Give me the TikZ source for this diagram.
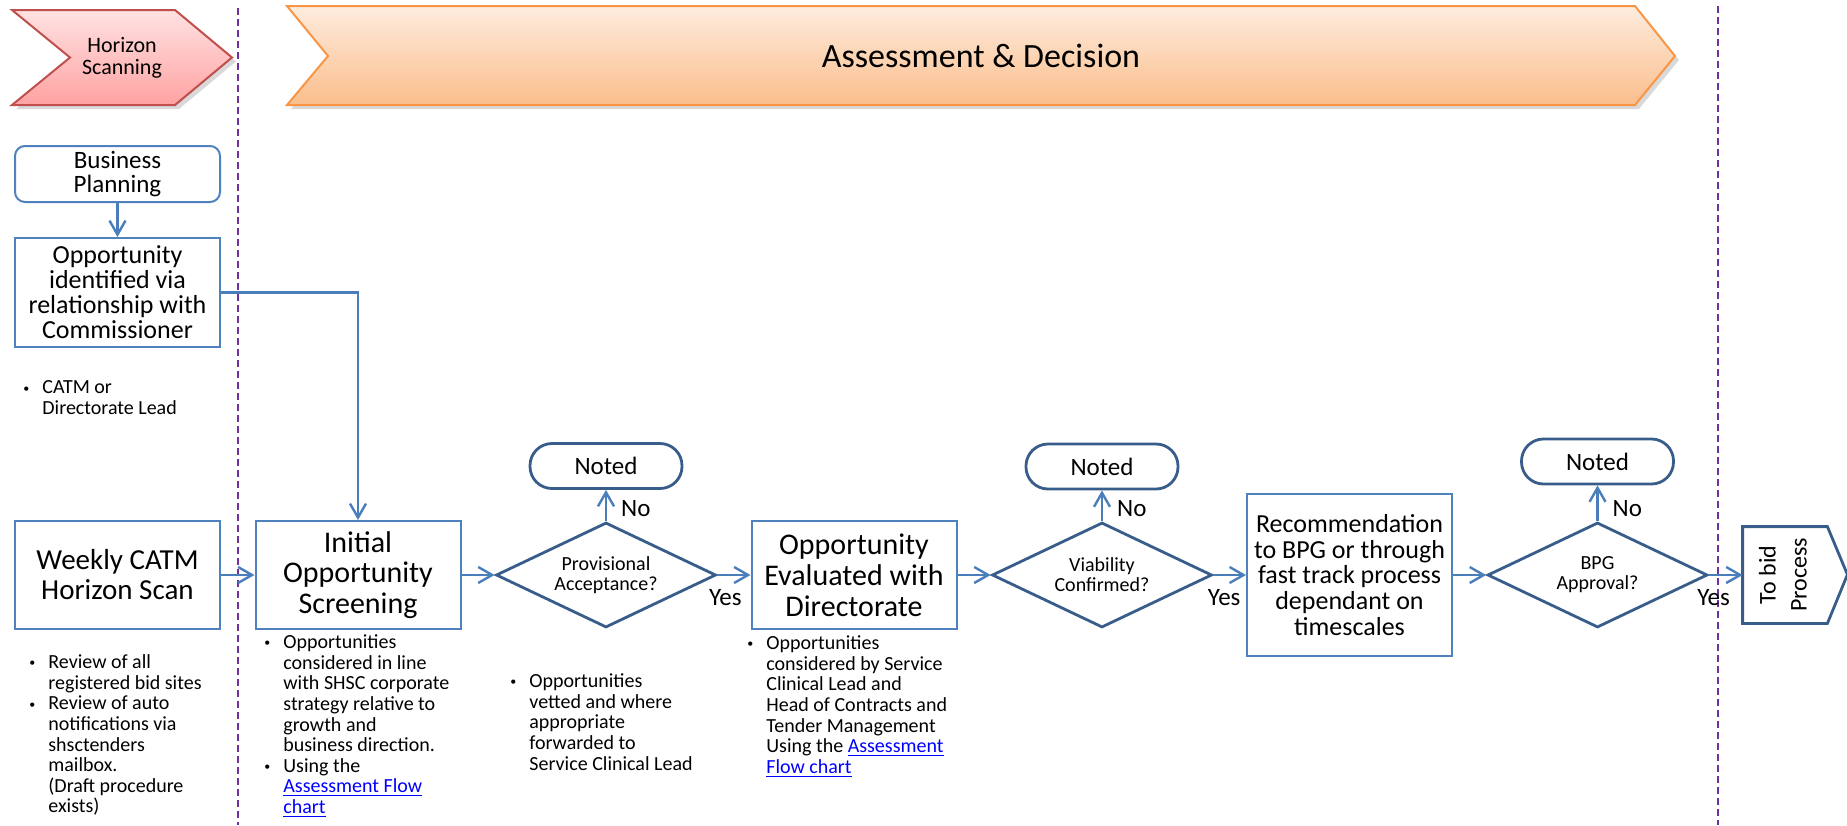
\documentclass[tikz,border=0pt]{standalone}
\usepackage{fontspec}
\setmainfont{Carlito}
\usepackage{tikz}
\usetikzlibrary{arrows,arrows.meta,shapes.geometric,shadows,positioning}

\definecolor{boxblue}{RGB}{79,129,189}
\definecolor{darkblue}{RGB}{56,93,138}
\definecolor{arrowblue}{RGB}{74,126,187}
\definecolor{lanepurple}{RGB}{112,48,160}
\definecolor{linkblue}{RGB}{0,0,255}
\definecolor{pinktop}{RGB}{255,226,226}
\definecolor{pinkbot}{RGB}{255,162,162}
\definecolor{pinkline}{RGB}{192,80,77}
\definecolor{orangetop}{RGB}{254,236,222}
\definecolor{orangebot}{RGB}{250,190,140}
\definecolor{orangeline}{RGB}{247,150,70}

\newcommand{\bul}{\leavevmode\llap{\raisebox{0.9pt}{\scalebox{0.6}{\textbullet}}\hspace{6.5pt}}}
\newcommand{\lnk}[1]{\textcolor{linkblue}{\underline{#1}}}

\begin{document}
\begin{tikzpicture}[x=0.5pt,y=-0.5pt,>={Straight Barb[length=7pt,width=8pt]}]
\tikzstyle{every node}=[inner sep=0pt]
\tikzstyle{stepbox}=[draw=boxblue,line width=1pt,align=center,minimum width=102.5pt]
\tikzstyle{decision}=[draw=darkblue,line width=1.4pt,diamond,aspect=2.1,minimum width=110pt,minimum height=52.5pt,align=center,font=\fontsize{10}{10}\selectfont]
\tikzstyle{noted}=[draw=darkblue,line width=1.4pt,rounded corners=11pt,minimum width=76pt,minimum height=22.5pt,font=\fontsize{12.5}{13}\selectfont]
\tikzstyle{notes}=[anchor=north west,align=left,font=\fontsize{10}{10.3}\selectfont]
\tikzstyle{lbl}=[inner sep=1pt,font=\fontsize{12.5}{13}\selectfont]
\tikzstyle{lane}=[draw=lanepurple,line width=1.2pt,dash pattern=on 3.5pt off 2pt]
\tikzstyle{phase}=[line width=1pt,drop shadow={shadow xshift=2pt,shadow yshift=-2pt,opacity=0.3}]
\useasboundingbox (0,0) rectangle (1847,825);

\path[phase,draw=pinkline,top color=pinktop,bottom color=pinkbot]
 (12,10) -- (175,10) -- (232,57.5) -- (175,105) -- (12,105) -- (70,57.5) -- cycle;
\node[align=center,font=\fontsize{11}{11}\selectfont] (hscan) at (122,58) {Horizon\\Scanning};
\path[phase,draw=orangeline,top color=orangetop,bottom color=orangebot]
 (287,6) -- (1635,6) -- (1675,56) -- (1635,105) -- (287,105) -- (328,56) -- cycle;
\node[font=\fontsize{17}{17}\selectfont] (assess) at (981,56) {Assessment \& Decision};

\draw[lane] (238,8) -- (238,825);
\draw[lane] (1718,6) -- (1718,825);

\node[stepbox,rounded corners=5pt,minimum height=28pt,font=\fontsize{12.5}{12}\selectfont] (bp) at (117.5,174) {Business\\Planning};
\node[stepbox,minimum height=54.5pt,font=\fontsize{13}{12.5}\selectfont] (opp) at (117.5,292.5) {Opportunity\\identified via\\relationship with\\Commissioner};
\node[stepbox,minimum height=54pt,font=\fontsize{14.5}{15}\selectfont] (scan) at (117.5,575) {Weekly CATM\\Horizon Scan};
\node[stepbox,minimum height=54pt,font=\fontsize{15}{15.3}\selectfont] (screen) at (358,575) {Initial\\Opportunity\\Screening};
\node[decision] (prov) at (606,575) {Provisional\\Acceptance?};
\node[noted] (noted1) at (606,466) {Noted};
\node[stepbox,minimum height=54pt,font=\fontsize{15}{15.5}\selectfont] (eval) at (854,575) {Opportunity\\Evaluated with\\Directorate};
\node[decision] (viab) at (1102,575) {Viability\\Confirmed?};
\node[noted] (noted2) at (1102,466.5) {Noted};
\node[stepbox,minimum height=81pt,font=\fontsize{13}{12.8}\selectfont] (recom) at (1349.5,575) {Recommendation\\to BPG or through\\fast track process\\dependant on\\timescales};
\node[decision] (bpg) at (1597.5,575) {BPG\\Approval?};
\node[noted] (noted3) at (1597.5,461.5) {Noted};
\node[minimum width=42pt,minimum height=48pt,font=\fontsize{12}{15.5}\selectfont] (bid) at (1785,575)
 {\rotatebox{90}{\begin{tabular}{@{}c@{}}To bid\\Process\end{tabular}}};
\draw[darkblue,line width=1.4pt] (bid.north west) -- (bid.north east) -- ++(10pt,-24pt) -- (bid.south east) -- (bid.south west) -- cycle;

\node[notes] (catmnote) at (42,380.5) {\bul CATM or\\Directorate Lead};
\node[notes] (scannote) at (48,654.5) {\bul Review of all\\registered bid sites\\\bul Review of auto\\notifications via\\shsctenders\\mailbox.\\(Draft procedure\\exists)};
\node[notes] (screennote) at (283,634.5) {\bul Opportunities\\considered in line\\with SHSC corporate\\strategy relative to\\growth and\\business direction.\\\bul Using the\\\lnk{Assessment Flow}\\\lnk{chart}};
\node[notes] (provnote) at (529,673.5) {\bul Opportunities\\vetted and where\\appropriate\\forwarded to\\Service Clinical Lead};
\node[notes] (evalnote) at (766,635.5) {\bul Opportunities\\considered by Service\\Clinical Lead and\\Head of Contracts and\\Tender Management\\Using the \lnk{Assessment}\\\lnk{Flow chart}};

\path[->,draw=arrowblue,line width=1.2pt]
(bp) edge (opp)
(opp) edge[to path={-| (\tikztotarget)}] (screen)
(scan) edge (screen)
(screen) edge (prov)
(prov) edge node[lbl,below=5.5pt,pos=0.24] {Yes} (eval)
(prov) edge node[lbl,right=6pt,pos=0.4] {No} (noted1)
(eval) edge (viab)
(viab) edge node[lbl,below=5.5pt,pos=0.33] {Yes} (recom)
(viab) edge node[lbl,right=6pt,pos=0.4] {No} (noted2)
(recom) edge (bpg)
(bpg) edge node[lbl,below=5.5pt,pos=0.14] {Yes} (bid)
(bpg) edge node[lbl,right=6pt,pos=0.35] {No} (noted3)
;
\end{tikzpicture}
\end{document}
